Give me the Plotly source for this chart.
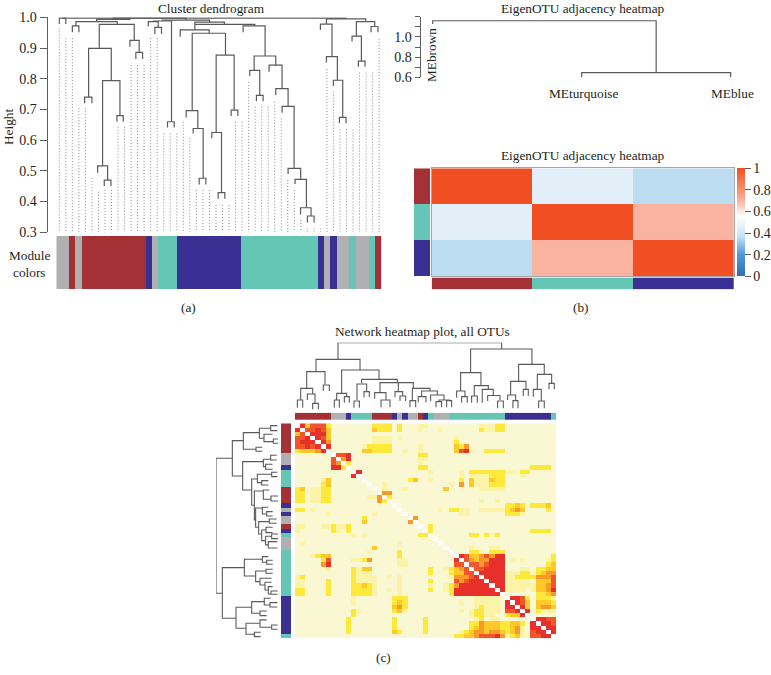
import plotly.graph_objects as go

W, H = 771, 675
SERIF = "Liberation Serif"
INK = "#231f20"
LINE = "#5a5a5a"

MODULE_CODE = {"grey": 0, "brown": 1, "blue": 2, "turquoise": 3}
MODULE_SCALE = [[0, "#b0b0b2"], [0.25, "#b0b0b2"], [0.25, "#a33136"], [0.5, "#a33136"],
                [0.5, "#3a2f92"], [0.75, "#3a2f92"], [0.75, "#66c6b6"], [1, "#66c6b6"]]

# ---------- panel (a) ----------
a_height_ticks = [0.3, 0.4, 0.5, 0.6, 0.7, 0.8, 0.9, 1.0]
a_guide_top = [.964, .932, .932, .704, .704, .476, .432, .438, .438, .644, .644, .845, .845, .845, .932, .932,
               .622, .622, .622, .66, .606, .438, .438, .438, .389, .389, .389, .66, .66, .79, .709, .709,
               .709, .725, .671, .47, .438, .34, .313, .313, .313, .832, .758, .635, .635, .635, .82, .82, .82, .929]
a_guide_base = 0.2876
# left leaf pos, right leaf pos, merge height, left arm end, right arm end
a_merges = [
    (0, 1, .997, .978, .978), (2, 3, .972, .951, .951), (2.55, 8.88, .986, .972, .977),
    (6.12, 11.48, .977, .899, .925), (4.49, 7.96, .899, .74, .794), (3.88, 5, .74, .72, .72),
    (6.63, 9.29, .794, .516, .68), (8.83, 9.8, .68, .66, .66), (5.87, 7.4, .516, .494, .47),
    (6.89, 7.91, .47, .451, .451), (10.82, 12.24, .925, .904, .886), (11.73, 12.76, .886, .864, .864),
    (13.62, 15.15, .986, .97, .967), (14.64, 15.66, .967, .946, .946), (14.39, 17.19, .988, .986, .66),
    (16.58, 17.6, .66, .641, .641), (15.79, 23.03, .991, .988, .984), (20.77, 25.3, .984, .977, .977),
    (20.77, 29.95, .977, .959, .972), (18.52, 22.96, .959, .937, .948), (20.36, 25.46, .948, .696, .877),
    (19.44, 21.22, .696, .674, .638), (20.51, 22.04, .638, .622, .476), (21.43, 22.45, .476, .456, .456),
    (24.03, 26.79, .877, .625, .698), (23.37, 24.85, .625, .606, .429), (24.34, 25.36, .429, .409, .409),
    (26.33, 27.35, .698, .679, .679), (28.16, 31.53, .972, .951, .874), (29.85, 33.16, .874, .827, .844),
    (29.18, 30.71, .827, .809, .746), (30.2, 31.22, .746, .727, .727), (32.14, 34.13, .844, .823, .768),
    (33.16, 35.05, .768, .747, .71), (34.13, 35.97, .71, .689, .508), (35.05, 36.98, .508, .49, .472),
    (36.12, 37.86, .472, .457, .38), (36.96, 38.57, .38, .358, .353), (38.01, 39.03, .353, .332, .332),
    (40.92, 46.94, .995, .978, .986), (40, 41.78, .978, .959, .872), (40.92, 42.6, .872, .853, .795),
    (41.99, 43.42, .795, .776, .674), (42.91, 43.93, .674, .655, .655), (45.51, 48.32, .986, .939, .97),
    (47.76, 48.82, .97, .951, .951), (44.85, 46.28, .939, .921, .857), (45.82, 46.84, .857, .839, .839),
    (5.71, 10.82, .993, .986, .997), (0.5, 43.93, .997, .997, .995), (8.26, 19.41, .997, .993, .991),
]
a_modules = (["grey"] * 2 + ["brown"] + ["grey"] + ["brown"] * 10 + ["blue"] + ["grey"] + ["turquoise"] * 3
             + ["blue"] * 10 + ["turquoise"] * 12 + ["blue", "grey", "blue"] + ["grey"] * 2 + ["turquoise"]
             + ["grey"] * 2 + ["turquoise", "brown"])

# ---------- panel (b) ----------
b_names = ["MEbrown", "MEturquoise", "MEblue"]
b_modules = ["brown", "turquoise", "blue"]
b_adjacency = [[1.0, 0.45, 0.35], [0.45, 1.0, 0.7], [0.35, 0.7, 1.0]]
b_merges = [(0, 1.5, 1.16, 1.128, 0.646), (1, 2, 0.646, 0.59, 0.59)]
b_scale = [[0, "#2f6db3"], [0.2, "#4f9bd6"], [0.35, "#bcdcf2"], [0.45, "#e3eff8"], [0.55, "#ffffff"],
           [0.7, "#f9b3a0"], [0.8, "#f6906f"], [1, "#f04e23"]]

# ---------- panel (c) ----------
c_modules = (["brown"] * 7 + ["grey"] * 3 + ["blue"] + ["turquoise"] * 4 + ["brown"] * 4
             + ["blue", "grey", "blue", "grey", "grey", "brown", "blue", "turquoise", "grey", "grey", "grey"]
             + ["turquoise"] * 11 + ["blue"] * 9 + ["turquoise"])
# row, first col, last col, adjacency level (upper triangle)
c_runs = [
    (0, 1, 1, 6), (0, 2, 2, 3), (0, 3, 5, 5), (0, 6, 6, 2), (0, 15, 18, 2), (0, 20, 20, 2), (0, 24, 25, 1), (0, 36, 38, 1), (0, 39, 40, 2),
    (1, 2, 3, 5), (1, 4, 4, 6), (1, 5, 5, 5), (1, 6, 6, 3), (1, 15, 15, 3), (1, 16, 18, 2), (1, 20, 20, 2), (1, 24, 24, 1), (1, 28, 28, 1), (1, 36, 36, 2), (1, 37, 38, 1), (1, 39, 40, 2),
    (2, 3, 5, 6), (2, 6, 6, 3),
    (3, 4, 4, 6), (3, 5, 5, 5), (3, 6, 6, 3), (3, 15, 18, 1), (3, 20, 20, 1), (3, 31, 31, 1),
    (4, 5, 5, 6), (4, 6, 6, 4), (4, 15, 18, 1), (4, 31, 31, 2),
    (5, 6, 6, 6), (5, 13, 13, 1), (5, 14, 18, 2), (5, 24, 24, 1), (5, 31, 31, 3), (5, 32, 32, 2), (5, 33, 33, 4),
    (6, 13, 14, 3), (6, 15, 18, 2), (6, 21, 21, 1), (6, 24, 24, 1), (6, 31, 31, 3), (6, 32, 32, 5), (6, 33, 33, 6), (6, 34, 34, 1), (6, 37, 40, 2),
    (7, 8, 9, 5), (7, 10, 10, 6), (7, 24, 25, 2),
    (8, 9, 9, 4), (8, 10, 10, 6), (8, 24, 25, 1),
    (9, 10, 10, 2), (9, 24, 24, 1),
    (10, 24, 25, 2), (10, 46, 49, 2),
    (11, 12, 12, 6), (11, 26, 26, 1), (11, 32, 32, 1), (11, 34, 40, 2), (11, 41, 42, 1), (11, 44, 45, 2),
    (12, 32, 32, 1), (12, 34, 37, 1), (12, 38, 40, 2), (12, 44, 44, 1),
    (13, 22, 22, 2), (13, 23, 23, 3), (13, 26, 26, 1), (13, 32, 32, 2), (13, 34, 34, 3), (13, 35, 37, 1), (13, 38, 38, 3), (13, 39, 40, 2),
    (14, 17, 17, 1), (14, 30, 30, 1), (14, 32, 32, 4), (14, 34, 34, 3), (14, 35, 37, 1), (14, 38, 40, 2),
    (15, 17, 17, 1), (15, 21, 21, 1), (15, 29, 29, 3), (15, 36, 40, 1),
    (16, 17, 18, 4), (17, 18, 18, 2), (18, 36, 36, 1), (18, 39, 39, 1),
    (19, 41, 42, 2), (19, 43, 43, 3), (19, 44, 44, 2), (19, 46, 48, 2), (19, 49, 49, 3),
    (20, 28, 28, 1), (20, 30, 31, 2), (20, 32, 33, 1), (20, 36, 40, 1), (20, 41, 41, 2), (20, 42, 42, 3), (20, 43, 43, 4), (20, 44, 44, 3), (20, 49, 49, 2),
    (21, 32, 33, 1), (21, 41, 43, 2), (21, 44, 44, 1),
    (22, 23, 23, 4), (24, 26, 26, 2), (25, 26, 26, 2), (25, 46, 49, 2),
    (26, 34, 35, 2), (26, 37, 37, 2), (26, 38, 38, 1), (26, 39, 39, 2),
    (29, 34, 34, 1), (29, 38, 39, 1),
    (30, 34, 35, 2), (30, 36, 36, 1), (30, 38, 40, 2),
    (31, 32, 32, 6), (31, 33, 33, 5), (31, 34, 35, 3), (31, 36, 36, 4), (31, 37, 37, 5), (31, 38, 38, 4), (31, 39, 40, 6), (31, 50, 50, 2),
    (32, 33, 33, 5), (32, 34, 34, 4), (32, 35, 35, 3), (32, 36, 37, 4), (32, 38, 40, 6), (32, 42, 42, 1), (32, 44, 44, 1), (32, 49, 49, 1), (32, 50, 50, 2),
    (33, 34, 35, 5), (33, 36, 36, 4), (33, 37, 37, 5), (33, 38, 40, 6), (33, 49, 49, 2), (33, 50, 50, 3),
    (34, 35, 36, 5), (34, 37, 40, 6), (34, 44, 45, 1), (34, 47, 48, 2), (34, 49, 50, 3),
    (35, 36, 40, 6), (35, 41, 43, 1), (35, 44, 45, 2), (35, 46, 46, 1), (35, 47, 47, 2), (35, 48, 48, 3), (35, 49, 50, 4),
    (36, 37, 40, 6), (36, 41, 42, 1), (36, 43, 46, 2), (36, 47, 49, 4), (36, 50, 50, 5),
    (37, 38, 40, 6), (37, 41, 45, 1), (37, 47, 49, 3), (37, 50, 50, 5),
    (38, 39, 40, 6), (38, 41, 46, 1), (38, 47, 48, 3), (38, 49, 49, 4), (38, 50, 50, 5),
    (39, 40, 40, 6), (39, 41, 44, 1), (39, 46, 46, 1), (39, 47, 48, 3), (39, 49, 49, 4), (39, 50, 50, 6),
    (40, 47, 48, 2), (40, 49, 49, 3), (40, 50, 50, 4),
    (41, 42, 43, 6), (41, 44, 44, 5), (41, 45, 45, 2), (41, 47, 49, 2), (41, 50, 50, 1),
    (42, 43, 43, 6), (42, 44, 44, 5), (42, 45, 45, 3), (42, 47, 49, 3), (42, 50, 50, 2),
    (43, 44, 44, 6), (43, 45, 45, 3), (43, 47, 47, 3), (43, 48, 49, 4), (43, 50, 50, 3),
    (44, 45, 45, 6), (44, 47, 47, 2), (44, 48, 50, 1),
    (46, 47, 48, 6), (46, 49, 50, 5), (47, 48, 49, 6), (47, 50, 50, 5), (48, 49, 50, 6), (49, 50, 50, 6),
]
c_level_colors = ["#faf8d2", "#fbf3a6", "#fde93c", "#fdc829", "#f79a2a", "#f0562a", "#e8302a", "#ffffff"]

c_top_merges = [
    (8.4, 40.36, 1.02, .77, .925), (4.1, 12.7, .77, .585, .61), (2.28, 5.86, .585, .335, .395),
    (1.11, 3.45, .335, .16, .25), (.46, 1.5, .16, .045, .045), (2.41, 3.91, .25, .16, .11),
    (3.45, 4.56, .11, .02, .02), (5.53, 6.71, .385, .295, .295), (9.11, 16.41, .61, .26, .47),
    (8.14, 10.09, .26, .16, .21), (7.68, 8.66, .16, .045, .045), (9.64, 10.61, .21, .12, .12),
    (13.02, 19.99, .47, .41, .42), (12.11, 14, .40, .16, .285), (11.52, 12.57, .145, .045, .045),
    (13.48, 14.52, .285, .2, .2), (16.6, 23.11, .42, .27, .335), (15.56, 17.77, .27, .18, .16),
    (16.8, 18.55, .16, .05, .05), (20.18, 20.18, .42, .285, .285), (19.53, 21.03, .285, .2, .22),
    (20.51, 21.61, .22, .145, .145), (22.92, 26.37, .335, .15, .295), (22.46, 23.57, .15, .05, .05),
    (24.74, 27.8, .295, .21, .235), (24.08, 25.58, .21, .125, .125), (26.49, 29.1, .235, .145, .16),
    (28.12, 30.14, .16, .135, .15), (27.54, 28.64, .135, .05, .05), (29.62, 30.6, .15, .05, .05),
    (34.3, 46.28, .925, .57, .695), (32.35, 36.32, .57, .295, .375), (31.57, 33.2, .295, .195, .21),
    (32.55, 33.65, .21, .12, .12), (35.02, 37.76, .375, .22, .32), (34.5, 35.61, .22, .12, .12),
    (36.58, 38.73, .32, .12, .228), (37.63, 40.04, .228, .145, .16), (39.58, 40.69, .145, .035, .035),
    (43.68, 48.69, .695, .44, .545), (42.12, 45.11, .44, .235, .32), (41.53, 43.09, .235, .16, .15),
    (42.57, 43.55, .15, .035, .035), (44.59, 45.57, .32, .22, .22), (47.33, 50.13, .545, .32, .41),
    (46.55, 48.11, .32, .21, .145), (47.59, 48.69, .145, .035, .035), (49.61, 50.65, .41, .32, .32),
]
c_left_merges = [
    (8.3, 40.32, 1.022, .754, .918), (4.11, 12.49, .754, .574, .585), (2.21, 6.17, .574, .311, .366),
    (1.19, 3.56, .311, .126, .235), (.55, 1.74, .126, .016, .016), (2.61, 4.35, .235, .093, .082),
    (3.72, 4.74, .082, 0, 0), (5.69, 6.64, .366, .262, .262), (9.09, 15.81, .585, .246, .437),
    (8.54, 10.28, .246, .126, .208), (7.59, 8.7, .126, .027, .027), (9.72, 10.91, .208, .093, .093),
    (13.2, 19.45, .437, .344, .393), (12.09, 14.07, .344, .109, .273), (11.62, 12.65, .109, .016, .016),
    (13.6, 14.62, .273, .164, .164), (16.05, 22.92, .393, .246, .372), (15.81, 18.02, .246, .148, .12),
    (17.23, 18.42, .12, 0, 0), (20.1, 24.66, .372, .262, .322), (19.92, 21.5, .262, .164, .191),
    (20.95, 21.98, .191, .093, .093), (23.32, 26.25, .322, .148, .273), (22.69, 23.72, .148, .027, .027),
    (25.3, 27.83, .273, .202, .208), (24.66, 25.93, .202, .093, .093), (26.8, 28.85, .208, .109, .164),
    (26.25, 27.35, .109, 0, 0), (28.06, 29.57, .164, .016, .016),
    (34.23, 46.25, .918, .557, .694), (32.26, 36.21, .557, .262, .372), (31.62, 32.97, .262, .164, .191),
    (32.49, 33.44, .191, .093, .093), (35.02, 37.55, .372, .202, .301), (34.63, 35.58, .202, .093, .093),
    (36.76, 38.34, .301, .109, .219), (37.71, 39.53, .219, .109, .164), (38.74, 40.48, .164, .093, .12),
    (39.77, 40.56, .12, .011, .011), (43.64, 48.62, .694, .437, .53), (42.3, 45.06, .437, .23, .301),
    (41.51, 43.09, .23, .126, .137), (42.53, 43.56, .137, .016, .016), (44.51, 45.62, .301, .191, .191),
    (47.43, 50.04, .53, .301, .393), (46.64, 48.38, .301, .191, .109), (47.83, 48.86, .109, .011, .011),
    (49.57, 50.6, .393, .29, .29),
]

c_matrix = [[0] * len(c_modules) for _ in c_modules]
for row, first, last, level in c_runs:
    for col in range(first, last + 1):
        c_matrix[row][col] = level
        c_matrix[col][row] = level
for i in range(len(c_modules)):
    c_matrix[i][i] = 7
c_scale = []
for i, colour in enumerate(c_level_colors):
    c_scale += [[i / 8, colour], [(i + 1) / 8, colour]]


def px_x(a, b):
    return [a / W, b / W]


def px_y(top, bottom):
    return [1 - bottom / H, 1 - top / H]


def tree_path(merges):
    """Bracket outline: positions and heights for each merge of a dendrogram."""
    p, h = [], []
    for left, right, top, arm_l, arm_r in merges:
        p += [left, left, right, right, None]
        h += [arm_l, top, top, arm_r, None]
    return p, h


fig = go.Figure()
hidden = dict(visible=False, fixedrange=True)


def add_axes(n, xdom, ydom, xrange=None, yrange=None, xkw=None, ykw=None):
    suffix = "" if n == 1 else str(n)
    xa = dict(hidden, domain=xdom, anchor="y" + suffix)
    ya = dict(hidden, domain=ydom, anchor="x" + suffix)
    if xrange is not None:
        xa["range"] = xrange
    if yrange is not None:
        ya["range"] = yrange
    xa.update(xkw or {})
    ya.update(ykw or {})
    fig.layout["xaxis" + suffix] = xa
    fig.layout["yaxis" + suffix] = ya
    return "x" + suffix, "y" + suffix


def add_band(n, xdom, ydom, modules, vertical=False):
    codes = [MODULE_CODE[m] for m in modules]
    z = [[c] for c in codes] if vertical else [codes]
    xr, yr = add_axes(n, xdom, ydom,
                      yrange=[len(codes) - .5, -.5] if vertical else None,
                      xrange=None if vertical else [-.5, len(codes) - .5])
    fig.add_trace(go.Heatmap(z=z, xaxis=xr, yaxis=yr, zmin=0, zmax=3, colorscale=MODULE_SCALE,
                             showscale=False, hoverinfo="skip"))


axis_style = dict(visible=True, showline=True, linecolor="#5f5f5f", linewidth=1.2, ticks="outside",
                  tickcolor="#5f5f5f", tickwidth=1.2, showgrid=False, zeroline=False,
                  tickfont=dict(family=SERIF, size=14, color=INK))

# (a) dendrogram
xr, yr = add_axes(1, px_x(47.7, 383), px_y(17.3, 232.3), [-1.776, 49.59], [.3, 1.0],
                  ykw=dict(axis_style, tickvals=a_height_ticks, ticktext=[f"{v:.1f}" for v in a_height_ticks], ticklen=7))
gx, gy = [], []
for i, top in enumerate(a_guide_top):
    gx += [i, i, None]
    gy += [top, a_guide_base, None]
fig.add_trace(go.Scatter(x=gx, y=gy, mode="lines", xaxis=xr, yaxis=yr, cliponaxis=False, hoverinfo="skip",
                         line=dict(color="#8a8a8a", width=1, dash="1px,2px")))
px_, hx_ = tree_path(a_merges)
fig.add_trace(go.Scatter(x=px_, y=hx_, mode="lines", xaxis=xr, yaxis=yr, cliponaxis=False, hoverinfo="skip",
                         line=dict(color=LINE, width=1.2)))
add_band(2, px_x(56.3, 381.7), px_y(236, 289.3), a_modules)

# (b) dendrogram
b_ticks = [.6, .7, .8, .9, 1.0, 1.1, 1.2]
xr, yr = add_axes(3, px_x(420.7, 760), px_y(16.7, 77.3), [-.0805, 2.197], [.6, 1.2],
                  ykw=dict(axis_style, tickvals=b_ticks, ticklen=5,
                           ticktext=["0.6", "", "0.8", "", "1.0", "", ""]))
px_, hx_ = tree_path(b_merges)
fig.add_trace(go.Scatter(x=px_, y=hx_, mode="lines", xaxis=xr, yaxis=yr, cliponaxis=False, hoverinfo="skip",
                         line=dict(color=LINE, width=1.2)))

# (b) heatmap
xr, yr = add_axes(4, px_x(431.7, 734), px_y(168.3, 276), [-.5, 2.5], [2.5, -.5],
                  xkw=dict(visible=True, showline=True, mirror=True, linecolor="#a5a5a5", linewidth=1,
                           showticklabels=False, ticks="", showgrid=False, zeroline=False),
                  ykw=dict(visible=True, showline=True, mirror=True, linecolor="#a5a5a5", linewidth=1,
                           showticklabels=False, ticks="", showgrid=False, zeroline=False))
fig.add_trace(go.Heatmap(
    z=b_adjacency, xaxis=xr, yaxis=yr, zmin=0, zmax=1, colorscale=b_scale, hoverinfo="skip",
    colorbar=dict(thickness=8, thicknessmode="pixels", len=108, lenmode="pixels", x=736.7 / W, xanchor="left",
                  y=1 - 168.3 / H, yanchor="top", xpad=0, ypad=0, outlinewidth=0,
                  tickvals=[0, .2, .4, .6, .8, 1], ticktext=["0", "0.2", "0.4", "0.6", "0.8", "1"],
                  ticks="outside", ticklen=6, tickcolor="#5f5f5f",
                  tickfont=dict(family=SERIF, size=14, color=INK))))
add_band(5, px_x(414, 430), px_y(168.3, 276), b_modules, vertical=True)
add_band(6, px_x(431.7, 734), px_y(277.5, 289.3), b_modules)

# (c) heatmap and its dendrograms
n = len(c_modules)
xr, yr = add_axes(7, px_x(295, 556.1), px_y(423.3, 638.3), [-.5, n - .5], [n - .5, -.5])
fig.add_trace(go.Heatmap(z=c_matrix, xaxis=xr, yaxis=yr, zmin=-.5, zmax=7.5, colorscale=c_scale,
                         showscale=False, hoverinfo="skip"))
add_band(8, px_x(295, 556.1), px_y(412.7, 420), c_modules)
add_band(9, px_x(281, 291), px_y(423.3, 638.3), c_modules, vertical=True)
xr, yr = add_axes(10, px_x(295, 556.1), px_y(342.67, 410.67), [0, n], [0, 1.02])
px_, hx_ = tree_path(c_top_merges)
fig.add_trace(go.Scatter(x=px_, y=hx_, mode="lines", xaxis=xr, yaxis=yr, cliponaxis=False, hoverinfo="skip",
                         line=dict(color=LINE, width=1.1)))
xr, yr = add_axes(11, px_x(216, 278.33), px_y(423.3, 638.3), [1.022, 0], [n, 0])
px_, hx_ = tree_path(c_left_merges)
fig.add_trace(go.Scatter(x=hx_, y=px_, mode="lines", xaxis=xr, yaxis=yr, cliponaxis=False, hoverinfo="skip",
                         line=dict(color=LINE, width=1.1)))


def label(text, x, y, size=13.3, angle=0):
    fig.add_annotation(text=text, x=x / W, y=1 - y / H, xref="paper", yref="paper", showarrow=False,
                       xanchor="center", yanchor="middle", textangle=angle,
                       font=dict(family=SERIF, size=size, color=INK))


label("Cluster dendrogram", 211, 8)
label("Height", 8, 127, angle=-90)
label("Module", 29, 256)
label("colors", 29, 272)
label("(a)", 188, 307)
label("EigenOTU adjacency heatmap", 583, 8)
label(b_names[0], 431, 55, angle=-90)
label(b_names[1], 583.5, 93)
label(b_names[2], 732, 93)
label("EigenOTU adjacency heatmap", 583, 155)
label("(b)", 581, 307)
label("Network heatmap plot, all OTUs", 422, 331)
label("(c)", 383, 657)

fig.update_layout(width=W, height=H, autosize=False,
                  margin=dict(l=0, r=0, t=0, b=0, autoexpand=False), showlegend=False,
                  paper_bgcolor="white", plot_bgcolor="white")
fig.write_html("out.html", config={"displayModeBar": False},
               post_script="document.body.style.margin='0';document.documentElement.style.overflow='hidden';")
